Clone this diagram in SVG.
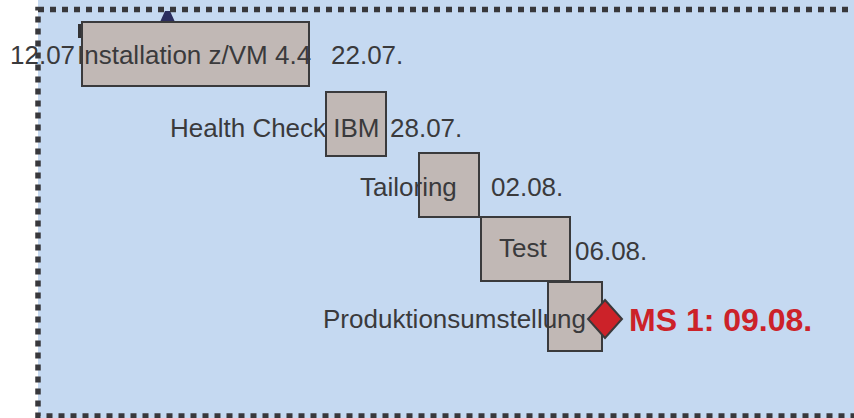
<svg xmlns="http://www.w3.org/2000/svg" width="854" height="418" viewBox="0 0 854 418">
  <defs>
    <style>
      .bar { fill: #C1B8B5; stroke: #3A3A3C; stroke-width: 2; }
      .lbl { font-family: "Liberation Sans", Arial, sans-serif; font-size: 26px; fill: #3A3A3C; }
      .ms { font-family: "Liberation Sans", Arial, sans-serif; font-size: 32px; font-weight: bold; fill: #CC2229; }
      .border { fill: none; stroke: #38383C; stroke-width: 5.5; stroke-dasharray: 6 6; }
    </style>
  </defs>
  <rect x="0" y="0" width="854" height="418" fill="#FFFFFF"/>
  <rect x="38" y="0" width="816" height="418" fill="#C5D9F1"/>

  <polygon points="160,22 175,22 170,11 165,11" fill="#2B2D5E"/>

  <g id="task-installation">
    <rect x="78" y="24" width="5" height="14" fill="#333336"/>
    <rect class="bar" x="82" y="22" width="227" height="64"/>
    <text class="lbl" x="10" y="64">12.07</text>
    <text class="lbl" x="77" y="64">Installation z/VM 4.4</text>
    <text class="lbl" x="331" y="64">22.07.</text>
  </g>

  <g id="task-healthcheck">
    <rect class="bar" x="326" y="92" width="60" height="64"/>
    <text class="lbl" x="170" y="137">Health Check IBM</text>
    <text class="lbl" x="390" y="137">28.07.</text>
  </g>

  <g id="task-tailoring">
    <rect class="bar" x="419" y="153" width="60" height="64"/>
    <text class="lbl" x="360" y="196">Tailoring</text>
    <text class="lbl" x="491" y="196">02.08.</text>
  </g>

  <g id="task-test">
    <rect class="bar" x="481" y="217" width="89" height="64"/>
    <text class="lbl" x="499" y="257">Test</text>
    <text class="lbl" x="575" y="260">06.08.</text>
  </g>

  <g id="task-produktion">
    <rect class="bar" x="548" y="282" width="54" height="69"/>
    <text class="lbl" x="323" y="328">Produktionsumstellung</text>
  </g>

  <g id="milestone-ms1">
    <polygon points="605,300 622,319 605,338 588,319" fill="#CC2229" stroke="#3A3A3C" stroke-width="2" stroke-linejoin="miter"/>
    <text class="ms" x="629" y="331">MS 1: 09.08.</text>
  </g>

  <rect class="border" x="38" y="9.5" width="830" height="406.5"/>
</svg>
